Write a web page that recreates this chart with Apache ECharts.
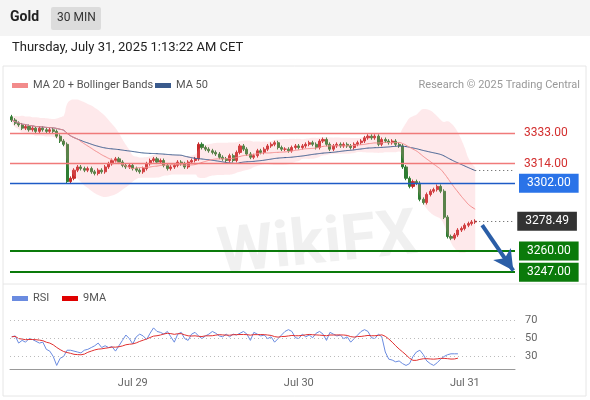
<!DOCTYPE html>
<html>
<head>
<meta charset="utf-8">
<script src="https://cdn.jsdelivr.net/npm/echarts@6/dist/echarts.min.js"></script>
<style>
html, body { margin: 0; padding: 0; background: #fff; }
#chart { width: 590px; height: 400px; }
</style>
</head>
<body>
<div id="chart"></div>
<script>
// 30 min closes, Gold
var closes = [
	3341, 3339, 3338, 3336, 3337, 3335, 3336, 3334, 3336, 3335, 3334, 3335, 3334,
	3331, 3328, 3326,
	3303,
	3305, 3310, 3312, 3311,
	3310, 3311, 3309, 3308, 3310, 3309,
	3312, 3314, 3316, 3317,
	3315, 3313, 3312, 3313, 3311, 3310, 3309, 3311,
	3314, 3316, 3317, 3315, 3316, 3313,
	3311, 3312, 3313, 3315, 3314, 3312,
	3315, 3316, 3317, 3326,
	3324, 3323, 3322, 3321, 3320, 3318,
	3317, 3316, 3319, 3316,
	3321, 3325, 3323, 3320,
	3318, 3319, 3322, 3321,
	3323, 3325, 3326, 3327, 3324, 3323, 3323, 3322,
	3324, 3325, 3324, 3325, 3326, 3327, 3326, 3324,
	3328, 3329, 3326, 3323, 3325, 3326, 3325, 3326,
	3325, 3324, 3326, 3327, 3328, 3330, 3331, 3330,
	3331, 3326, 3329, 3328, 3327, 3328, 3326, 3325,
	3312, 3305, 3300, 3303,
	3302, 3292, 3290, 3295, 3297,
	3298, 3300, 3297, 3281,
	3269, 3268, 3270, 3273, 3274,
	3276, 3277, 3278, 3278.49
];
var firstOpen = 3343;

var rsi = [
	52, 53, 45, 48, 46, 50, 49, 47, 45, 46, 38, 36, 30, 20, 28, 30, 37, 37, 36, 35,
	34, 37, 38, 40, 42, 45, 40, 42, 40, 41, 36, 42, 48, 54, 50, 44, 52, 55, 53, 49,
	56, 62, 58, 57, 55, 58, 52, 46, 55, 57, 50, 48, 55, 57, 53, 50, 53, 55, 58, 56,
	53, 52, 55, 52, 55, 54, 56, 58, 55, 48, 57, 55, 53, 54, 50, 52, 46, 50, 54, 58,
	60, 58, 51, 50, 55, 52, 54, 51, 56, 58, 55, 48, 57, 55, 53, 54, 50, 52, 46, 50,
	54, 58, 60, 58, 51, 50, 55, 52, 35, 27, 26, 24, 25, 22, 20, 22, 30, 35, 37, 32,
	25, 22, 20, 23, 27, 30, 32, 33, 33, 33
];

var dayLabels = { 35: 'Jul 29', 83: 'Jul 30', 131: 'Jul 31' };
var levels = { r2: 3333, r1: 3314, pivot: 3302, last: 3278.49, s1: 3260, s2: 3247 };
var totalSlots = 146;

var cats = [];
for (var i = 0; i < totalSlots; i++) cats.push(dayLabels[i] || '');

var ohlc = [];
for (var i = 0; i < closes.length; i++) {
	var o = i == 0 ? firstOpen : closes[i - 1];
	var c = closes[i];
	ohlc.push([o, c, Math.min(o, c) - 1.2, Math.max(o, c) + 1.2]);
}

function movAvg(arr, n) {
	var out = [];
	for (var i = 0; i < arr.length; i++) {
		var s = 0, k = 0;
		for (var j = Math.max(0, i - n + 1); j <= i; j++) { s += arr[j]; k++; }
		out.push(+(s / k).toFixed(2));
	}
	return out;
}
function stdev(arr, n, ma) {
	var out = [];
	for (var i = 0; i < arr.length; i++) {
		var s = 0, k = 0;
		for (var j = Math.max(0, i - n + 1); j <= i; j++) { s += Math.pow(arr[j] - ma[i], 2); k++; }
		out.push(Math.sqrt(s / k));
	}
	return out;
}
var ma20 = movAvg(closes, 20);
var ma50 = movAvg(closes, 50);
var sd = stdev(closes, 20, ma20);
var bbLow = [], bbWidth = [];
for (var i = 0; i < closes.length; i++) {
	bbLow.push(ma20[i] - 2 * sd[i] - 1.5);
	bbWidth.push(4 * sd[i] + 3);
}
var rsiMa = movAvg(rsi, 9);

function tag(bg, v) {
	return {
		show: true, position: 'end', distance: 4, color: '#fff', backgroundColor: bg,
		padding: [4, 8, 3, 8], fontSize: 12, fontFamily: 'Roboto', formatter: v.toFixed(2)
	};
}
function red(v) {
	return { show: true, position: 'end', distance: 9, color: '#d32f2f', fontSize: 12, formatter: v.toFixed(2) };
}
function level(v, style, label) {
	return { yAxis: v, lineStyle: style, label: label };
}

var dom = document.getElementById('chart');
var myChart = echarts.init(dom);

var option = {
	animation: false,
	textStyle: { fontFamily: 'Roboto' },
	graphic: [
		{ type: 'rect', shape: { x: 0, y: 0, width: 590, height: 36 }, style: { fill: '#f4f4f4' } },
		{ type: 'text', left: 10, top: 10, style: { text: 'Gold', font: 'bold 14px Roboto', fill: '#222' } },
		{ type: 'rect', shape: { x: 51, y: 7, width: 50, height: 23, r: 2 }, style: { fill: '#dcdcdc' } },
		{ type: 'text', left: 57, top: 12, style: { text: '30 MIN', font: '12px Roboto', fill: '#333' } },
		{ type: 'text', left: 12, top: 41, style: { text: 'Thursday, July 31, 2025 1:13:22 AM CET', font: '13px Roboto', fill: '#222' } },
		{ type: 'rect', shape: { x: 3, y: 66, width: 583, height: 330 }, style: { fill: 'none', stroke: '#e6e6e6' } },
		{ type: 'rect', shape: { x: 12, y: 83, width: 16, height: 5 }, style: { fill: '#f28b8b' } },
		{ type: 'text', left: 33, top: 80, style: { text: 'MA 20 + Bollinger Bands', font: '11px Roboto', fill: '#555' } },
		{ type: 'rect', shape: { x: 155, y: 83, width: 16, height: 5 }, style: { fill: '#3a5a8c' } },
		{ type: 'text', left: 176, top: 80, style: { text: 'MA 50', font: '11px Roboto', fill: '#555' } },
		{ type: 'text', right: 10, top: 80, style: { text: 'Research \u00a9 2025 Trading Central', font: '11px Roboto', fill: '#999' } },
		{ type: 'line', shape: { x1: 3, y1: 284, x2: 587, y2: 284 }, style: { stroke: '#e6e6e6' } },
		{ type: 'rect', shape: { x: 12, y: 296, width: 16, height: 5 }, style: { fill: '#6a8be0' } },
		{ type: 'text', left: 33, top: 293, style: { text: 'RSI', font: '11px Roboto', fill: '#555' } },
		{ type: 'rect', shape: { x: 62, y: 296, width: 16, height: 5 }, style: { fill: '#e00000' } },
		{ type: 'text', left: 83, top: 293, style: { text: '9MA', font: '11px Roboto', fill: '#555' } },
		{ type: 'text', left: 215, top: 205, rotation: 0.1, style: { text: 'WikiFX', font: 'bold 64px Roboto', fill: 'rgba(0,0,0,0.06)' } }
	],
	grid: [
		{ left: 10, right: 75, top: 99, height: 178 },
		{ left: 10, right: 75, top: 310, height: 59 }
	],
	xAxis: [
		{ type: 'category', gridIndex: 0, data: cats, boundaryGap: true, show: false },
		{
			type: 'category', gridIndex: 1, data: cats, boundaryGap: true,
			axisLine: { lineStyle: { color: '#999' } },
			axisTick: { show: false },
			axisLabel: { interval: 0, color: '#666', fontSize: 11, margin: 9 }
		}
	],
	yAxis: [
		{ type: 'value', gridIndex: 0, min: 3244, max: 3354, show: false, splitLine: { show: false } },
		{ type: 'value', gridIndex: 1, min: 16, max: 82, show: false, splitLine: { show: false } }
	],
	series: [
		{
			name: 'bbLow', type: 'line', stack: 'bb', data: bbLow, symbol: 'none', smooth: true,
			lineStyle: { opacity: 0 }
		},
		{
			name: 'bbBand', type: 'line', stack: 'bb', data: bbWidth, symbol: 'none', smooth: true,
			lineStyle: { opacity: 0 }, areaStyle: { color: 'rgba(250,150,160,0.3)' }
		},
		{
			type: 'line', data: [], symbol: 'none', color: '#555',
			markLine: {
				silent: true, symbol: 'none',
				lineStyle: { color: '#555', width: 1, type: [1, 3] },
				data: [
					[{ coord: [closes.length - 1, levels.last], label: tag('#333', levels.last) },
					 { coord: [totalSlots - 1, levels.last] }],
					[{ coord: [closes.length - 1, ma50[ma50.length - 1]], label: { show: false } },
					 { coord: [totalSlots - 1, ma50[ma50.length - 1]] }]
				]
			}
		},
		{
			name: 'MA 50', type: 'line', data: ma50, symbol: 'none', smooth: true,
			lineStyle: { color: '#3a5a8c', width: 1 }
		},
		{
			name: 'MA 20', type: 'line', data: ma20, symbol: 'none', smooth: true,
			lineStyle: { color: '#f28b8b', width: 1 }
		},
		{
			name: 'Gold', type: 'candlestick', data: ohlc, barWidth: 2.6,
			itemStyle: { color: '#c62828', color0: '#2e7d32', borderColor: '#c62828', borderColor0: '#2e7d32' },
			markLine: {
				silent: true, symbol: 'none',
				data: [
					level(levels.r2, { color: '#f07a7a', width: 1.4, type: 'solid' }, red(levels.r2)),
					level(levels.r1, { color: '#f07a7a', width: 1.4, type: 'solid' }, red(levels.r1)),
					level(levels.pivot, { color: '#1e5bc6', width: 1.4, type: 'solid' }, tag('#2a73e8', levels.pivot)),
					level(levels.s1, { color: '#0a7a0a', width: 2, type: 'solid' }, tag('#0a7a0a', levels.s1)),
					level(levels.s2, { color: '#0a7a0a', width: 2, type: 'solid' }, tag('#0a7a0a', levels.s2))
				]
			}
		},
		{
			type: 'line', data: [], symbol: 'none', color: '#2b5ea7',
			markLine: {
				silent: true, symbol: ['none', 'arrow'], symbolSize: [16, 20],
				lineStyle: { color: '#2b5ea7', width: 4, type: 'solid' },
				label: { show: false },
				data: [[{ coord: [closes.length + 1, 3276] }, { coord: [totalSlots - 1, 3248] }]]
			}
		},
		{
			name: 'RSI', type: 'line', xAxisIndex: 1, yAxisIndex: 1, data: rsi, symbol: 'none',
			lineStyle: { color: '#6a8be0', width: 1 },
			markLine: {
				silent: true, symbol: 'none',
				lineStyle: { color: '#bbb', type: [1, 3], width: 1 },
				label: { show: true, position: 'end', distance: 10, color: '#666', fontSize: 11 },
				data: [{ yAxis: 70 }, { yAxis: 50 }, { yAxis: 30 }]
			}
		},
		{
			name: '9MA', type: 'line', xAxisIndex: 1, yAxisIndex: 1, data: rsiMa, symbol: 'none',
			lineStyle: { color: '#e03030', width: 1 }
		}
	]
};

if (option && typeof option === "object") {
	myChart.setOption(option, true);
}
</script>
</body>
</html>
